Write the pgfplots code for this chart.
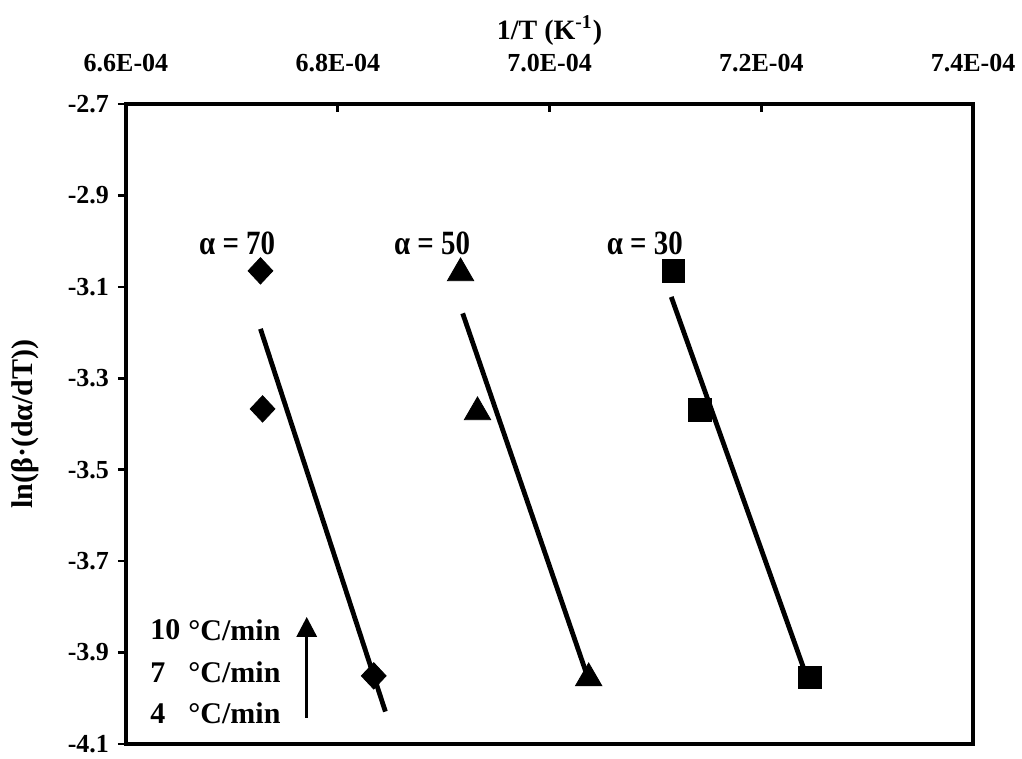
\documentclass[border=0pt]{standalone}
\usepackage{fontspec}
\setmainfont{Liberation Serif}
\usepackage{graphicx}
\usepackage{pgfplots}
\pgfplotsset{compat=1.18}
\usetikzlibrary{arrows.meta}

\pgfplotstableread{
x y
6.727e-4 -3.065
6.729e-4 -3.367
6.834e-4 -3.951
}\alphaSeventy
\pgfplotstableread{
x y
6.916e-4 -3.070
6.932e-4 -3.374
7.037e-4 -3.956
}\alphaFifty
\pgfplotstableread{
x y
7.117e-4 -3.065
7.142e-4 -3.369
7.246e-4 -3.954
}\alphaThirty

\begin{document}
\begin{tikzpicture}
\path[use as bounding box] (-63pt,-7.5pt) rectangle (448pt,372pt);
\begin{axis}[
  scale only axis, width=423.5pt, height=320pt,
  at={(0,0)}, anchor=south west,
  xmin=6.6e-4, xmax=7.4e-4, ymin=-4.1, ymax=-2.7,
  scaled x ticks=false, scaled y ticks=false,
  axis line style={line width=1.8pt},
  xtick={6.6e-4,6.8e-4,7.0e-4,7.2e-4,7.4e-4},
  xticklabels={6.6E-04,6.8E-04,7.0E-04,7.2E-04,7.4E-04},
  xtick pos=right, xticklabel pos=right,
  xtick align=inside,
  ytick={-4.1,-3.9,-3.7,-3.5,-3.3,-3.1,-2.9,-2.7},
  yticklabels={-4.1,-3.9,-3.7,-3.5,-3.3,-3.1,-2.9,-2.7},
  ytick pos=left, ytick align=outside,
  major tick length=4pt,
  tick style={line width=1.3pt, black},
  ticklabel style={font=\bfseries\fontsize{13}{15}\selectfont},
  xticklabel style={anchor=center, yshift=20.5pt},
  yticklabel style={anchor=east, xshift=-1pt},
  xlabel={1/T (K\textsuperscript{-1})},
  xlabel style={at={(axis description cs:0.5,1.115)}, anchor=center, font=\bfseries\fontsize{14}{16}\selectfont},
  ylabel={ln(β·(dα/dT))},
  ylabel style={at={(axis description cs:-0.119,0.5)}, anchor=center, font=\bfseries\fontsize{15}{17}\selectfont},
  clip=false,
]
% fitted lines
\addplot[black, line width=2.4pt, no markers] coordinates {(6.727e-4,-3.192) (6.845e-4,-4.029)};
\addplot[black, line width=2.4pt, no markers] coordinates {(6.918e-4,-3.158) (7.037e-4,-3.960)};
\addplot[black, line width=2.4pt, no markers] coordinates {(7.115e-4,-3.122) (7.244e-4,-3.960)};
% data points
\addplot[only marks, mark=diamond*, mark size=6.6pt, mark options={black, fill=black, xscale=1.25}] table[x=x,y=y] {\alphaSeventy};
\addplot[only marks, mark=triangle*, mark size=7.6pt, mark options={black, fill=black}] table[x=x,y=y] {\alphaFifty};
\addplot[only marks, mark=square*, mark size=5.6pt, mark options={black, fill=black}] table[x=x,y=y] {\alphaThirty};
% annotations
\node[font=\bfseries\fontsize{17}{19}\selectfont] at (axis cs:6.705e-4,-3.004) {\scalebox{0.85}[1]{α = 70}};
\node[font=\bfseries\fontsize{17}{19}\selectfont] at (axis cs:6.889e-4,-3.004) {\scalebox{0.85}[1]{α = 50}};
\node[font=\bfseries\fontsize{17}{19}\selectfont] at (axis cs:7.090e-4,-3.004) {\scalebox{0.85}[1]{α = 30}};
% heating-rate legend
\node[anchor=west, inner sep=0pt, font=\bfseries\fontsize{15}{17}\selectfont] at (axis cs:6.6227e-4,-3.851) {10};
\node[anchor=west, inner sep=0pt, font=\bfseries\fontsize{15}{17}\selectfont] at (axis cs:6.6227e-4,-3.943) {7};
\node[anchor=west, inner sep=0pt, font=\bfseries\fontsize{15}{17}\selectfont] at (axis cs:6.6227e-4,-4.033) {4};
\node[anchor=west, inner sep=0pt, font=\bfseries\fontsize{15}{17}\selectfont] at (axis cs:6.6586e-4,-3.851) {°C/min};
\node[anchor=west, inner sep=0pt, font=\bfseries\fontsize{15}{17}\selectfont] at (axis cs:6.6586e-4,-3.943) {°C/min};
\node[anchor=west, inner sep=0pt, font=\bfseries\fontsize{15}{17}\selectfont] at (axis cs:6.6586e-4,-4.033) {°C/min};
\draw[line width=1.6pt, -{Triangle[width=10pt,length=10pt]}] (axis cs:6.7707e-4,-4.043) -- (axis cs:6.7707e-4,-3.822);
\end{axis}
\end{tikzpicture}
\end{document}
